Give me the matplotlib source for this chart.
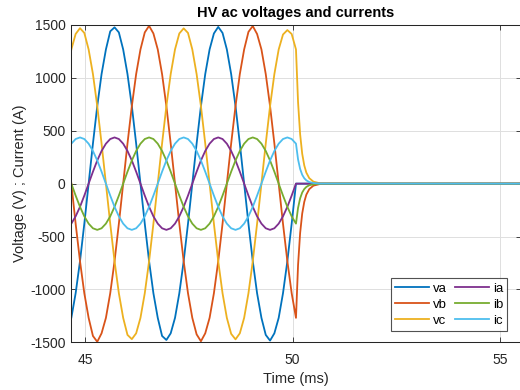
import matplotlib
matplotlib.use('Agg')
import matplotlib.pyplot as plt

t_ms = [44.559, 44.663, 44.767, 44.872, 44.976, 45.080, 45.184, 45.288,
        45.392, 45.497, 45.601, 45.705, 45.809, 45.913, 46.017, 46.122,
        46.226, 46.330, 46.434, 46.538, 46.642, 46.747, 46.851, 46.955,
        47.059, 47.163, 47.267, 47.372, 47.476, 47.580, 47.684, 47.788,
        47.892, 47.997, 48.101, 48.205, 48.309, 48.413, 48.517, 48.622,
        48.726, 48.830, 48.934, 49.038, 49.142, 49.247, 49.351, 49.455,
        49.559, 49.663, 49.767, 49.872, 49.976, 50.080,
        50.13, 50.18, 50.23, 50.28, 50.33, 50.40, 50.50, 50.65, 55.60]

va = [-1415, -1269, -1036, -733, -379, 0, 379, 733,
      1036, 1269, 1440, 1478, 1430, 1269, 1036, 733,
      379, 0, -379, -733, -1036, -1269, -1440, -1478,
      -1415, -1269, -1036, -733, -379, 0, 379, 733,
      1036, 1269, 1420, 1482, 1425, 1269, 1036, 733,
      379, 0, -379, -733, -1036, -1269, -1430, -1484,
      -1415, -1269, -1036, -733, -379, 0,
      0, 0, 0, 0, 0, 0, 0, 0, 0]

vb = [379, 0, -379, -733, -1036, -1269, -1440, -1495,
      -1415, -1269, -1036, -733, -379, 0, 379, 733,
      1036, 1269, 1430, 1492, 1420, 1269, 1036, 733,
      379, 0, -379, -733, -1036, -1269, -1425, -1490,
      -1415, -1269, -1036, -733, -379, 0, 379, 733,
      1036, 1269, 1435, 1490, 1415, 1269, 1036, 733,
      379, 0, -379, -733, -1036, -1269,
      -770, -467, -283, -172, -104, -52, -19, -4, 0]

vc = [1036, 1269, 1415, 1470, 1425, 1269, 1036, 733,
      379, 0, -379, -733, -1036, -1269, -1430, -1470,
      -1415, -1269, -1036, -733, -379, 0, 379, 733,
      1036, 1269, 1420, 1468, 1425, 1269, 1036, 733,
      379, 0, -379, -733, -1036, -1269, -1420, -1472,
      -1415, -1269, -1036, -733, -379, 0, 379, 733,
      1036, 1269, 1410, 1452, 1415, 1269,
      770, 467, 283, 172, 104, 52, 19, 4, 0]

ia = [-422, -378, -309, -219, -113, 0, 113, 219,
      309, 378, 422, 437, 422, 378, 309, 219,
      113, 0, -113, -219, -309, -378, -422, -437,
      -422, -378, -309, -219, -113, 0, 113, 219,
      309, 378, 422, 437, 422, 378, 309, 219,
      113, 0, -113, -219, -309, -378, -422, -437,
      -422, -378, -309, -219, -113, 0,
      0, 0, 0, 0, 0, 0, 0, 0, 0]

ib = [113, 0, -113, -219, -309, -378, -422, -437,
      -422, -378, -309, -219, -113, 0, 113, 219,
      309, 378, 422, 437, 422, 378, 309, 219,
      113, 0, -113, -219, -309, -378, -422, -437,
      -422, -378, -309, -219, -113, 0, 113, 219,
      309, 378, 422, 437, 422, 378, 309, 219,
      113, 0, -113, -219, -309, -378,
      -229, -139, -84, -51, -31, -15, -6, -1, 0]

ic = [309, 378, 422, 437, 422, 378, 309, 219,
      113, 0, -113, -219, -309, -378, -422, -437,
      -422, -378, -309, -219, -113, 0, 113, 219,
      309, 378, 422, 437, 422, 378, 309, 219,
      113, 0, -113, -219, -309, -378, -422, -437,
      -422, -378, -309, -219, -113, 0, 113, 219,
      309, 378, 422, 437, 422, 378,
      229, 139, 84, 51, 31, 15, 6, 1, 0]

x_ticks = [45, 50, 55]
y_ticks = [-1500, -1000, -500, 0, 500, 1000, 1500]


def plot_waveforms():
    plt.rcParams['font.family'] = ['Liberation Sans', 'DejaVu Sans']
    plt.rcParams['axes.unicode_minus'] = False

    fig = plt.figure(figsize=(5.2, 3.9), dpi=100)
    ax = fig.add_axes([71 / 520, 47.7 / 390, 450 / 520, 317.3 / 390])

    series = [
        ('va', va, '#0072BD'),
        ('vb', vb, '#D95319'),
        ('vc', vc, '#EDB120'),
        ('ia', ia, '#7E2F8E'),
        ('ib', ib, '#77AC30'),
        ('ic', ic, '#4DBEEE'),
    ]
    for name, vals, color in series:
        ax.plot(t_ms, vals, color=color, linewidth=1.3, label=name)

    ax.set_xlim(44.655, 55.506)
    ax.set_ylim(-1500, 1500)
    ax.set_xticks(x_ticks)
    ax.set_yticks(y_ticks)
    ax.grid(True, color='#dedede', linewidth=0.7)
    ax.set_axisbelow(True)

    dark = '#262626'
    for sp in ax.spines.values():
        sp.set_color(dark)
        sp.set_linewidth(0.75)
    ax.tick_params(direction='in', length=3.5, width=0.6, colors=dark,
                   labelsize=10, top=True, right=True, pad=4)
    ax.tick_params(axis='x', pad=7.5)

    ax.set_xlabel('Time (ms)', fontsize=10.5, color=dark, labelpad=4)
    ax.set_ylabel('Voltage (V) ; Current (A)', fontsize=10.5, color=dark, labelpad=2)
    ax.set_title('HV ac voltages and currents', fontsize=10.5, fontweight='bold', pad=6)

    leg = ax.legend(ncol=2, loc='lower right', bbox_to_anchor=(0.969, 0.036),
                    borderaxespad=0, fontsize=9.5, handlelength=2.6,
                    handletextpad=0.3, columnspacing=0.55, labelspacing=0.3,
                    borderpad=0.3, frameon=True, fancybox=False)
    leg.get_frame().set_edgecolor('#262626')
    leg.get_frame().set_linewidth(0.8)

    fig.savefig('out.png', dpi=100)
    plt.close(fig)


def main():
    plot_waveforms()


if __name__ == "__main__":
    main()
